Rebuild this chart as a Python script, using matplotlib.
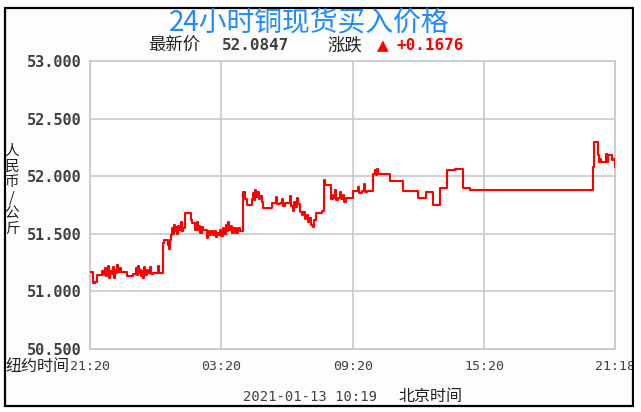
import matplotlib
matplotlib.use("Agg")
import matplotlib.pyplot as plt
from matplotlib.patches import Rectangle

plt.rcParams['font.family'] = ['Noto Sans CJK SC', 'DejaVu Sans']

# ---------------- data ----------------
title = "24小时铜现货买入价格"
latest_label = "最新价"
latest_value = "52.0847"
change_label = "涨跌"
change_value = "+0.1676"
ylabel_text = "人民币/公斤"
ny_label = "纽约时间"
footer_date = "2021-01-13 10:19"
footer_tz = "北京时间"

# minutes since 21:20 (New York time axis)
minutes = [0, 5, 8, 9, 14, 18, 30, 34, 37, 40, 43, 47, 50, 53, 56, 60, 63, 66, 69, 72, 75, 78, 82, 86, 91,
           100, 112, 119, 125, 128, 131, 134, 137, 140, 143, 146, 149, 152, 156, 160, 164, 168, 172, 180, 185, 188, 192,
           199, 203, 209, 213, 216, 218, 221, 224, 227, 230, 233, 236, 239, 242, 245, 248, 251, 254, 258, 260, 274,
           276, 280, 288, 292, 295, 298, 302, 306, 310, 314, 318, 320, 323, 327, 332, 338, 342, 345, 348, 352, 356,
           360, 365, 368, 372, 375, 379, 382, 386, 390, 394, 400, 405, 410, 415,
           420, 425, 430, 440, 443, 446, 449, 452, 455, 458, 462, 466, 470, 475, 490, 498, 505, 509, 512, 520, 527,
           530, 535, 545, 548, 551, 555, 558, 562, 566, 570, 575, 580, 584, 588, 592, 596, 600, 605, 610, 614, 618,
           630, 635,
           640, 645, 657, 660, 665, 668, 672, 675, 680, 684, 688, 692, 696, 700, 705, 712, 721, 730, 735, 738, 745,
           750, 753, 760,
           776, 780, 783, 785, 790, 822, 858, 899, 920, 940, 959, 977, 1000, 1021, 1041, 1377, 1381, 1392, 1395,
           1398, 1401, 1410, 1414, 1417, 1420, 1428, 1431, 1434, 1438]
prices = [51.17, 51.17, 51.10, 51.07, 51.08, 51.14, 51.14, 51.18, 51.14, 51.20, 51.13, 51.17, 51.22, 51.12, 51.18,
          51.15, 51.21, 51.12, 51.19, 51.16, 51.23, 51.17, 51.20, 51.17, 51.17,
          51.13, 51.13, 51.15, 51.20, 51.14, 51.22, 51.16, 51.19, 51.13, 51.18, 51.12, 51.21, 51.14, 51.19, 51.16,
          51.21, 51.15, 51.16, 51.16, 51.22, 51.16, 51.16,
          51.42, 51.45, 51.45, 51.40, 51.37, 51.45, 51.49, 51.55, 51.50, 51.58, 51.52, 51.56, 51.50, 51.57, 51.53,
          51.60, 51.52, 51.55, 51.55, 51.68, 51.68,
          51.62, 51.59, 51.53, 51.60, 51.53, 51.57, 51.51, 51.56, 51.53, 51.53, 51.53, 51.46, 51.52, 51.49, 51.52,
          51.49, 51.52, 51.47, 51.51, 51.49, 51.53,
          51.48, 51.55, 51.50, 51.58, 51.52, 51.60, 51.53, 51.57, 51.51, 51.55, 51.51, 51.55, 51.52, 51.52,
          51.86, 51.80, 51.75, 51.75, 51.80, 51.85, 51.79, 51.88, 51.82, 51.86, 51.80, 51.83, 51.78, 51.72, 51.72,
          51.77, 51.77, 51.82, 51.76, 51.77, 51.80,
          51.74, 51.77, 51.77, 51.83, 51.74, 51.70, 51.78, 51.73, 51.81, 51.76, 51.69, 51.66, 51.69, 51.63, 51.66,
          51.60, 51.64, 51.58, 51.56, 51.62, 51.68,
          51.68, 51.70,
          51.97, 51.92, 51.92, 51.80, 51.84, 51.81, 51.88, 51.79, 51.81, 51.86, 51.80, 51.84, 51.78, 51.81, 51.81,
          51.81, 51.87, 51.87, 51.91, 51.85, 51.87,
          51.93, 51.86, 51.87,
          52.02, 52.05, 52.01, 52.06, 52.02, 51.96, 51.87, 51.81, 51.86, 51.75, 51.90, 52.05, 52.06, 51.895, 51.88,
          52.08, 52.30, 52.18, 52.12,
          52.15, 52.12, 52.12, 52.19, 52.12, 52.18, 52.18, 52.14, 52.15, 52.08]

x_ticks = [0, 360, 720, 1080, 1438]
x_tick_labels = ["21:20", "03:20", "09:20", "15:20", "21:18"]
y_ticks = [50.5, 51.0, 51.5, 52.0, 52.5, 53.0]
y_tick_labels = ["50.500", "51.000", "51.500", "52.000", "52.500", "53.000"]

# ---------------- figure ----------------
W, H = 641, 412
fig = plt.figure(figsize=(W / 100, H / 100), dpi=100)
fig.patch.set_facecolor("white")


def fx(x):
    return x / W


def fy(y):
    return 1 - y / H


# outer frame
frame = Rectangle((fx(4.5), fy(405.5)), fx(633 - 4.5), (405.5 - 7.5) / H, transform=fig.transFigure,
                  facecolor="#fcfdfc", edgecolor="black", linewidth=1.6, zorder=-5)
fig.patches.append(frame)

L, R, T, B = 90, 615, 61, 349
ax = fig.add_axes([fx(L), fy(B), (R - L) / W, (B - T) / H])
ax.set_zorder(2)
ax.set_facecolor("white")
ax.plot(minutes, prices, drawstyle="steps-post", color="#ff0000", linewidth=1.5, zorder=3)
ax.set_xlim(0, 1438)
ax.set_ylim(50.5, 53.0)
grid_c = "#c8c8c8"
for s in ax.spines.values():
    s.set_color(grid_c)
    s.set_linewidth(1.2)
ax.grid(True, color=grid_c, linewidth=1.2)
ax.set_axisbelow(True)
ax.set_yticks(y_ticks)
ax.set_yticklabels(y_tick_labels, fontfamily="DejaVu Sans Mono", fontweight="bold",
                   fontsize=11, color="#404040")
ax.set_xticks(x_ticks)
ax.set_xticklabels(x_tick_labels, fontfamily="DejaVu Sans Mono", fontsize=9.5, color="#404040")
ax.tick_params(axis="both", length=0)
ax.tick_params(axis="y", pad=6)
ax.tick_params(axis="x", pad=8)

# white strip beyond the frame on the right (clips the last x label)
fig.patches.append(Rectangle((fx(633.8), 0), 1 - fx(633.8), 1, transform=fig.transFigure,
                             facecolor="white", edgecolor="none", zorder=10))
fig.patches.append(Rectangle((fx(632.2), fy(405.5)), fx(1.6), (405.5 - 7.5) / H, transform=fig.transFigure,
                             facecolor="black", edgecolor="none", zorder=11))

# title
fig.text(fx(309.5), fy(23), title, color="#1e8cff", fontsize=20, ha="center", va="center")

# subtitle
sub_y = fy(46)
fig.text(fx(148), sub_y, latest_label, fontsize=12.5, color="#202020", ha="left", va="center")
fig.text(fx(222), sub_y, latest_value, fontsize=11.5, color="#404040", fontfamily="DejaVu Sans Mono",
         fontweight="bold", ha="left", va="center")
fig.text(fx(327), sub_y, change_label, fontsize=12.5, color="#202020", ha="left", va="center")
fig.text(fx(377), sub_y, "▲", fontsize=11, color="#ff0000", fontfamily="DejaVu Sans", ha="left", va="center")
fig.text(fx(396), sub_y, change_value, fontsize=11.5, color="#ff0000", fontfamily="DejaVu Sans Mono",
         fontweight="bold", ha="left", va="center")

# y label (vertical stacked characters)
fig.text(fx(12), fy(190), "\n".join(ylabel_text), fontsize=10.5, color="#202020", ha="center", va="center",
         linespacing=1.15)

# New York time label
fig.text(fx(5), fy(367), ny_label, fontsize=11.5, color="#202020", ha="left", va="center")

# footer
fig.text(fx(243), fy(397), footer_date, fontsize=10, color="#404040", fontfamily="DejaVu Sans Mono",
         ha="left", va="center")
fig.text(fx(398), fy(397), footer_tz, fontsize=11.5, color="#202020", ha="left", va="center")

fig.savefig("out.png", dpi=100, facecolor="white")
